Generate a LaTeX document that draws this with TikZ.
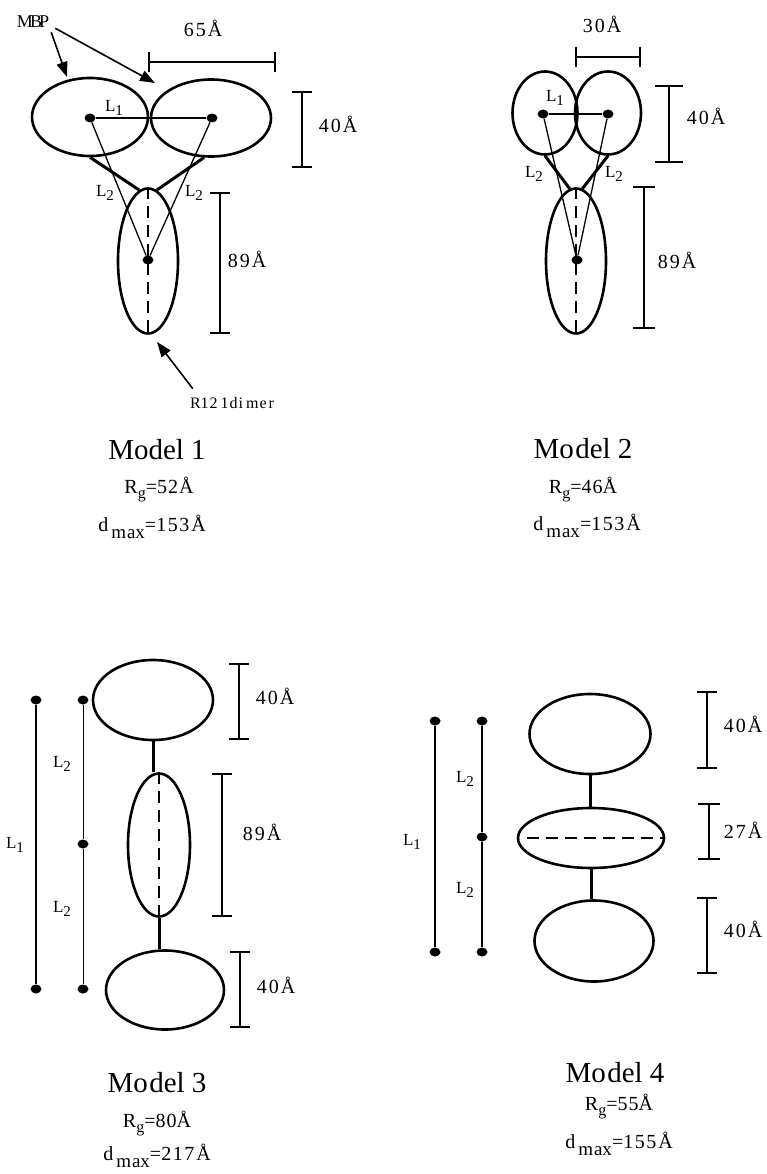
\documentclass[tikz,border=0pt]{standalone}
\usepackage{fontspec}
\setmainfont{Liberation Serif}
\usetikzlibrary{shapes.geometric,arrows.meta,calc}
\newcommand\Ang{\kern2pt Å}
\newcommand\Rgsym{R\raisebox{-5pt}{\fontsize{16}{16}\selectfont g}}
\newcommand\dmaxsym{d\kern3pt\raisebox{-7pt}{\fontsize{19}{19}\selectfont m\kern1pt ax}}
\newcommand\Lsub[1]{L\raisebox{-4pt}{\fontsize{15}{15}\selectfont #1}}
\newcommand\vdimbar[4]{\draw[dimbar] (#1-#4,#2) -- (#1+#4,#2) (#1,#2) -- (#1,#3) (#1-#4,#3) -- (#1+#4,#3);}
\newcommand\hdimbar[4]{\draw[dimbar] (#2,#1-#4) -- (#2,#1+#4) (#2,#1) -- (#3,#1) (#3,#1-#4) -- (#3,#1+#4);}
\begin{document}
\begin{tikzpicture}[x=1pt,y=-1pt,
  ell/.style={ellipse, draw, line width=2.6pt, inner sep=0pt},
  blob/.style={ellipse, fill, inner sep=0pt, minimum width=11pt, minimum height=9pt},
  thinl/.style={line width=1.3pt},
  thickl/.style={line width=3pt},
  llinethick/.style={line width=1.8pt},
  llinethin/.style={line width=1pt},
  dashl/.style={line width=1.4pt, dash pattern=on 12pt off 7pt},
  dimbar/.style={line width=1.6pt},
  dimlab/.style={anchor=base, inner sep=0pt, font=\fontsize{20}{22}\selectfont},
  llab/.style={anchor=base, inner sep=0pt, font=\fontsize{17}{18}\selectfont},
  title/.style={anchor=base, inner sep=0pt, font=\fontsize{29}{32}\selectfont},
  info/.style={anchor=base, inner sep=0pt, font=\fontsize{20}{22}\selectfont},
  arr/.style={line width=1.6pt, -{Triangle[length=15pt,width=11pt]}}
]
\useasboundingbox (0,0) rectangle (767,1174);

% ================= Model 1 =================
\node[ell, minimum width=116pt, minimum height=78pt] (m1L) at (90,117) {};
\node[ell, minimum width=120pt, minimum height=77pt] (m1R) at (211,118) {};
\node[ell, minimum width=60pt, minimum height=145pt] (m1D) at (148,261) {};
\node[blob] (m1a) at (90,118) {};
\node[blob] (m1b) at (212,118) {};
\node[blob] (m1c) at (148,260) {};
\draw[thinl] (m1a) -- (m1b);
\draw[thinl] (m1a) -- (m1c);
\draw[thinl] (m1b) -- (m1c);
\draw[thickl] (m1L.south) -- (m1D.97);
\draw[thickl] (m1R.260) -- (m1D.83);
\draw[dashl] (m1D.north) -- (m1D.south);
\node[llab] (m1l1) at (114,112) {\Lsub{1}};
\node[llab] (m1l2a) at (105,197) {\Lsub{2}};
\node[llab] (m1l2b) at (194,197) {\Lsub{2}};
\hdimbar{62}{149}{275}{10}
\node[dimlab] (m1d65) at (203,37) {6\kern2pt 5\Ang};
\vdimbar{302}{92}{167}{10}
\node[dimlab] (m1d40) at (338,133) {4\kern2pt 0\Ang};
\vdimbar{220}{193}{333}{10}
\node[dimlab] (m1d89) at (247,267) {8\kern2pt 9\Ang};
\node[anchor=base, inner sep=0pt, font=\fontsize{18}{18}\selectfont] (mbp) at (33,28) {M\kern-3pt B\kern-3pt P};
\coordinate (mbpT1) at (67,77);
\coordinate (mbpT2) at (155,83);
\draw[arr] ([shift={(2,4)}]mbp.south east) -- (mbpT1);
\draw[arr] ([shift={(6,0)}]mbp.south east) -- (mbpT2);
\node[anchor=base, inner sep=0pt, font=\fontsize{16}{16}\selectfont] (r121) at (232,408) {R1\kern1pt 2\kern3pt 1\kern1pt d\kern1pt i\kern3pt m\kern1pt e\kern2pt r};
\coordinate (r121T) at (157,342);
\draw[arr] ([shift={(3,-8)}]r121.north west) -- (r121T);
\node[title] (m1t) at (157,459) {Model 1};
\node[info] (m1rg) at (159,493) {\Rgsym=5\kern1pt 2\kern1pt Å};
\node[info] (m1dm) at (152,531) {\dmaxsym=1\kern1.5pt 5\kern1.5pt 3\Ang};

% ================= Model 2 =================
\node[ell, minimum width=65pt, minimum height=83pt] (m2L) at (545,113) {};
\node[ell, minimum width=66pt, minimum height=83pt] (m2R) at (608,113) {};
\node[ell, minimum width=60pt, minimum height=145pt] (m2D) at (576,261) {};
\node[blob] (m2a) at (543,114) {};
\node[blob] (m2b) at (608,114) {};
\node[blob] (m2c) at (577,260) {};
\draw[thinl] (m2a) -- (m2b);
\draw[thinl] (m2a) -- (m2c);
\draw[thinl] (m2b) -- (m2c);
\draw[thickl] (m2L.south) -- (m2D.95);
\draw[thickl] (m2R.south) -- (m2D.85);
\draw[dashl] (m2D.north) -- (m2D.south);
\node[llab] (m2l1) at (555,102) {\Lsub{1}};
\node[llab] (m2l2a) at (534,178) {\Lsub{2}};
\node[llab] (m2l2b) at (614,178) {\Lsub{2}};
\hdimbar{57}{576}{640}{10}
\node[dimlab] (m2d30) at (602,33) {3\kern2pt 0\Ang};
\vdimbar{669}{86}{162}{14}
\node[dimlab] (m2d40) at (706,125) {4\kern2pt 0\Ang};
\vdimbar{644}{187}{328}{11}
\node[dimlab] (m2d89) at (677,268) {8\kern2pt 9\Ang};
\node[title] (m2t) at (583,458) {Mo\kern1.5pt del 2};
\node[info] (m2rg) at (583,493) {\Rgsym=4\kern1pt 6Å};
\node[info] (m2dm) at (587,530) {\dmaxsym=1\kern1.5pt 5\kern1.5pt 3\Ang};

% ================= Model 3 =================
\node[ell, minimum width=120pt, minimum height=80pt] (m3T) at (153,700) {};
\node[ell, minimum width=62pt, minimum height=143pt] (m3M) at (159,845) {};
\node[ell, minimum width=118pt, minimum height=79pt] (m3B) at (165,990) {};
\draw[thickl] (m3T.south) -- (m3T.south |- m3M.north);
\draw[thickl] (m3M.south) -- (m3M.south |- m3B.north);
\draw[dashl] (m3M.north) -- ([yshift=-8pt]m3M.south);
\node[blob] (n3a) at (36,700) {};
\node[blob] (n3b) at (36,989) {};
\node[blob] (n3c) at (83,700) {};
\node[blob] (n3d) at (83,844) {};
\node[blob] (n3e) at (83,989) {};
\draw[llinethick] (n3a) -- (n3b);
\draw[llinethin] (n3c) -- (n3d);
\draw[llinethin] (n3d) -- (n3e);
\node[llab] (m3l1) at (15,848) {\Lsub{1}};
\node[llab] (m3l2a) at (62,767) {\Lsub{2}};
\node[llab] (m3l2b) at (62,912) {\Lsub{2}};
\vdimbar{239}{664}{739}{10}
\node[dimlab] (m3d40a) at (275,704) {4\kern2pt 0\Ang};
\vdimbar{222}{774}{916}{10}
\node[dimlab] (m3d89) at (262,840) {8\kern2pt 9\Ang};
\vdimbar{240}{952}{1027}{10}
\node[dimlab] (m3d40b) at (276,993) {4\kern2pt 0\Ang};
\node[title] (m3t) at (157,1092) {Mo\kern1.5pt del 3};
\node[info] (m3rg) at (157,1127) {\Rgsym=8\kern1pt 0Å};
\node[info] (m3dm) at (157,1160) {\dmaxsym=2\kern1.5pt 1\kern1.5pt 7\Ang};

% ================= Model 4 =================
\node[ell, minimum width=121pt, minimum height=80pt] (m4T) at (590,734) {};
\node[ell, minimum width=146pt, minimum height=60pt] (m4M) at (591,838) {};
\node[ell, minimum width=119pt, minimum height=81pt] (m4B) at (594,941) {};
\draw[thickl] (m4T.south) -- (m4T.south |- m4M.north);
\draw[thickl] (m4M.south) -- (m4M.south |- m4B.north);
\draw[dashl] ([xshift=10pt]m4M.west) -- (m4M.east);
\node[blob] (n4a) at (435,721) {};
\node[blob] (n4b) at (435,952) {};
\node[blob] (n4c) at (482,721) {};
\node[blob] (n4d) at (482,837) {};
\node[blob] (n4e) at (482,952) {};
\draw[llinethick] (n4a) -- (n4b);
\draw[llinethick] (n4c) -- (n4d);
\draw[llinethick] (n4d) -- (n4e);
\node[llab] (m4l1) at (412,845) {\Lsub{1}};
\node[llab] (m4l2a) at (465,782) {\Lsub{2}};
\node[llab] (m4l2b) at (465,893) {\Lsub{2}};
\vdimbar{707}{692}{768}{10}
\node[dimlab] (m4d40a) at (743,732) {4\kern2pt 0\Ang};
\vdimbar{709}{804}{859}{11}
\node[dimlab] (m4d27) at (743,838) {2\kern2pt 7\Ang};
\vdimbar{707}{898}{973}{10}
\node[dimlab] (m4d40b) at (743,937) {4\kern2pt 0\Ang};
\node[title] (m4t) at (615,1082) {Mo\kern1.5pt del 4};
\node[info] (m4rg) at (619,1110) {\Rgsym=5\kern1pt 5Å};
\node[info] (m4dm) at (619,1148) {\dmaxsym=1\kern1.5pt 5\kern1.5pt 5\Ang};
\end{tikzpicture}
\end{document}
